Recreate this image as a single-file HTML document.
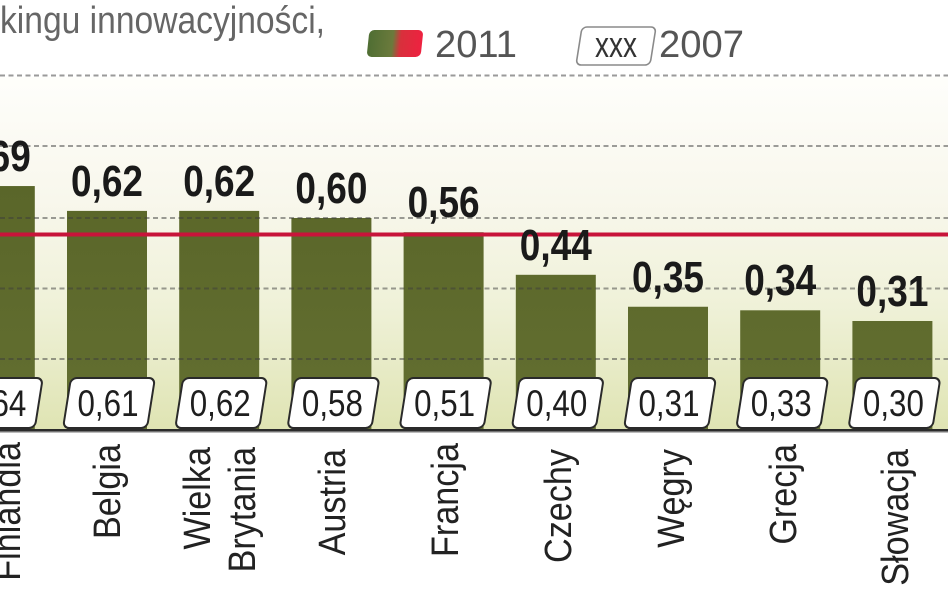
<!DOCTYPE html>
<html>
<head>
<meta charset="utf-8">
<style>
html,body{margin:0;padding:0;background:#fff;}
svg{display:block;}
text{font-family:"Liberation Sans", sans-serif;}
</style>
</head>
<body>
<svg width="948" height="593" viewBox="0 0 948 593" xmlns="http://www.w3.org/2000/svg">
<defs>
  <linearGradient id="bg" x1="0" y1="77" x2="0" y2="430" gradientUnits="userSpaceOnUse">
    <stop offset="0" stop-color="#fefefb"/>
    <stop offset="0.35" stop-color="#f8f7ec"/>
    <stop offset="0.65" stop-color="#eff1d8"/>
    <stop offset="1" stop-color="#dfe4b3"/>
  </linearGradient>
  <linearGradient id="bar" x1="0" y1="180" x2="0" y2="431" gradientUnits="userSpaceOnUse">
    <stop offset="0" stop-color="#5a6629"/>
    <stop offset="1" stop-color="#636f31"/>
  </linearGradient>
  <linearGradient id="sw" x1="0" y1="0" x2="1" y2="0">
    <stop offset="0" stop-color="#4f6e33"/>
    <stop offset="0.45" stop-color="#6b7a3c"/>
    <stop offset="0.6" stop-color="#d8303c"/>
    <stop offset="1" stop-color="#ee2240"/>
  </linearGradient>
</defs>

<!-- backgrounds -->
<rect x="0" y="0" width="948" height="593" fill="#ffffff"/>
<rect x="0" y="77" width="948" height="353" fill="url(#bg)"/>

<!-- title & legend -->
<text x="0" y="33" font-size="38" fill="#666" textLength="325" lengthAdjust="spacingAndGlyphs">kingu innowacyjności,</text>
<g transform="translate(395,43.5) skewX(-6)">
  <rect x="-27" y="-13.5" width="54" height="27" rx="5" fill="url(#sw)"/>
</g>
<text x="435" y="57" font-size="38" fill="#555" textLength="82" lengthAdjust="spacingAndGlyphs">2011</text>
<g transform="translate(616,46) skewX(-9)">
  <rect x="-37" y="-19" width="74" height="38" rx="5" fill="#fff" stroke="#8a8a8a" stroke-width="1.6"/>
</g>
<text x="595" y="57" font-size="36" fill="#333" textLength="42" lengthAdjust="spacingAndGlyphs">xxx</text>
<text x="659" y="57" font-size="38" fill="#555" textLength="85" lengthAdjust="spacingAndGlyphs">2007</text>

<!-- top dashed line -->
<line x1="0" y1="75.5" x2="948" y2="75.5" stroke="#9a9a9a" stroke-width="2" stroke-dasharray="5 3.5"/>

<!-- bars -->
<g fill="url(#bar)">
  <rect x="-45.2" y="186.05" width="80" height="244.95"/>
  <rect x="67" y="210.9" width="80" height="220.1"/>
  <rect x="179.2" y="210.9" width="80" height="220.1"/>
  <rect x="291.4" y="218" width="80" height="213"/>
  <rect x="403.6" y="232.2" width="80" height="198.8"/>
  <rect x="515.8" y="274.8" width="80" height="156.2"/>
  <rect x="628" y="306.75" width="80" height="124.25"/>
  <rect x="740.2" y="310.3" width="80" height="120.7"/>
  <rect x="852.4" y="321" width="80" height="110"/>
</g>

<!-- grid lines -->
<g stroke="rgba(60,60,60,0.5)" stroke-width="2" stroke-dasharray="5 3.5">
  <line x1="0" y1="146" x2="948" y2="146"/>
  <line x1="0" y1="218" x2="948" y2="218"/>
  <line x1="0" y1="288.5" x2="948" y2="288.5"/>
  <line x1="0" y1="359" x2="948" y2="359"/>
</g>

<!-- red average line -->
<line x1="0" y1="234.5" x2="948" y2="234.5" stroke="#c8143a" stroke-width="4"/>

<!-- 2011 value labels -->
<g font-size="44" font-weight="bold" fill="#1a1a1a" text-anchor="middle">
  <text x="-5.2" y="171" textLength="72" lengthAdjust="spacingAndGlyphs">0,69</text>
  <text x="107" y="196" textLength="72" lengthAdjust="spacingAndGlyphs">0,62</text>
  <text x="219.2" y="196" textLength="72" lengthAdjust="spacingAndGlyphs">0,62</text>
  <text x="331.4" y="203" textLength="72" lengthAdjust="spacingAndGlyphs">0,60</text>
  <text x="443.6" y="217" textLength="72" lengthAdjust="spacingAndGlyphs">0,56</text>
  <text x="555.8" y="260" textLength="72" lengthAdjust="spacingAndGlyphs">0,44</text>
  <text x="668" y="292" textLength="72" lengthAdjust="spacingAndGlyphs">0,35</text>
  <text x="780.2" y="295" textLength="72" lengthAdjust="spacingAndGlyphs">0,34</text>
  <text x="892.4" y="306" textLength="72" lengthAdjust="spacingAndGlyphs">0,31</text>
</g>

<!-- 2007 boxes -->
<g fill="#fff" stroke="#2a2a2a" stroke-width="2">
  <rect transform="translate(-3.2,403) skewX(-9)" x="-42" y="-25" width="84" height="50" rx="6"/>
  <rect transform="translate(109,403) skewX(-9)" x="-42" y="-25" width="84" height="50" rx="6"/>
  <rect transform="translate(221.2,403) skewX(-9)" x="-42" y="-25" width="84" height="50" rx="6"/>
  <rect transform="translate(333.4,403) skewX(-9)" x="-42" y="-25" width="84" height="50" rx="6"/>
  <rect transform="translate(445.6,403) skewX(-9)" x="-42" y="-25" width="84" height="50" rx="6"/>
  <rect transform="translate(557.8,403) skewX(-9)" x="-42" y="-25" width="84" height="50" rx="6"/>
  <rect transform="translate(670,403) skewX(-9)" x="-42" y="-25" width="84" height="50" rx="6"/>
  <rect transform="translate(782.2,403) skewX(-9)" x="-42" y="-25" width="84" height="50" rx="6"/>
  <rect transform="translate(894.4,403) skewX(-9)" x="-42" y="-25" width="84" height="50" rx="6"/>
</g>
<g font-size="37" fill="#1e1e1e" text-anchor="middle">
  <text x="-4.2" y="416" textLength="61" lengthAdjust="spacingAndGlyphs">0,64</text>
  <text x="108" y="416" textLength="61" lengthAdjust="spacingAndGlyphs">0,61</text>
  <text x="220.2" y="416" textLength="61" lengthAdjust="spacingAndGlyphs">0,62</text>
  <text x="332.4" y="416" textLength="61" lengthAdjust="spacingAndGlyphs">0,58</text>
  <text x="444.6" y="416" textLength="61" lengthAdjust="spacingAndGlyphs">0,51</text>
  <text x="556.8" y="416" textLength="61" lengthAdjust="spacingAndGlyphs">0,40</text>
  <text x="669" y="416" textLength="61" lengthAdjust="spacingAndGlyphs">0,31</text>
  <text x="781.2" y="416" textLength="61" lengthAdjust="spacingAndGlyphs">0,33</text>
  <text x="893.4" y="416" textLength="61" lengthAdjust="spacingAndGlyphs">0,30</text>
</g>

<!-- axis -->
<rect x="0" y="429" width="948" height="2.5" fill="#2b2b2b"/>
<rect x="0" y="431.5" width="948" height="1.5" fill="#bbbbbb"/>

<!-- country labels (rotated) -->
<g font-size="38" fill="#222" text-anchor="end">
  <text transform="translate(20,442) rotate(-90) scale(0.9,1)">Finlandia</text>
  <text transform="translate(120,444) rotate(-90) scale(0.9,1)">Belgia</text>
  <text transform="translate(210,447) rotate(-90) scale(0.9,1)">Wielka</text>
  <text transform="translate(255,447) rotate(-90) scale(0.9,1)">Brytania</text>
  <text transform="translate(345,449) rotate(-90) scale(0.9,1)">Austria</text>
  <text transform="translate(458,443) rotate(-90) scale(0.9,1)">Francja</text>
  <text transform="translate(571,449) rotate(-90) scale(0.9,1)">Czechy</text>
  <text transform="translate(684,449) rotate(-90) scale(0.9,1)">Węgry</text>
  <text transform="translate(796,444) rotate(-90) scale(0.9,1)">Grecja</text>
  <text transform="translate(908,449) rotate(-90) scale(0.9,1)">Słowacja</text>
</g>
</svg>
</body>
</html>
